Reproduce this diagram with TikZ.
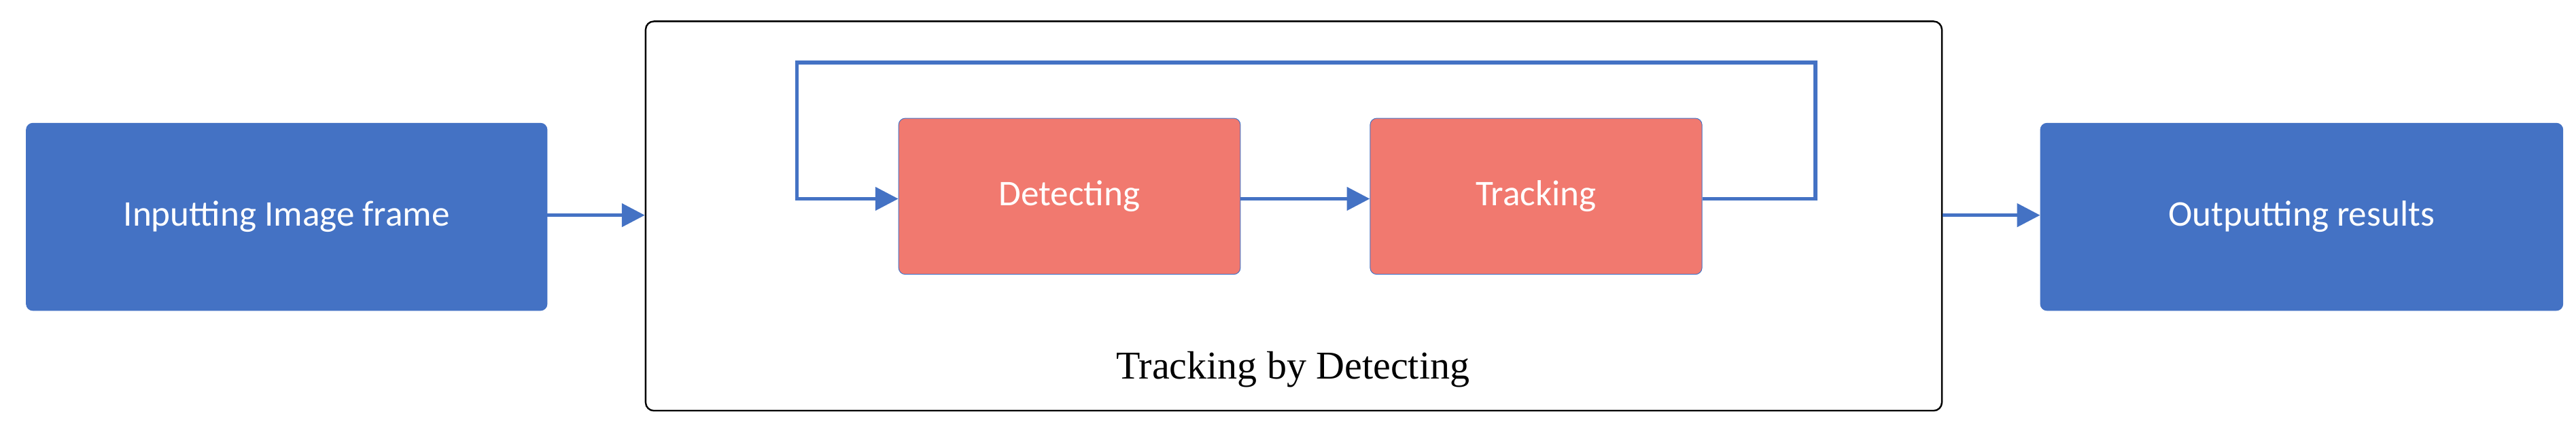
\documentclass[tikz,border=0pt]{standalone}
\usepackage{fontspec}
\setmainfont{Carlito}
\newfontfamily\serif{Liberation Serif}
\usetikzlibrary{arrows.meta}
\definecolor{bblue}{HTML}{4472C4}
\definecolor{salmon}{HTML}{F1796F}
\begin{document}
\begin{tikzpicture}[x=1pt,y=-1pt,
  blk/.style={draw=bblue,fill=bblue,rounded corners=4pt,text=white,font=\fontsize{22}{26}\selectfont},
  red/.style={draw=bblue,fill=salmon,rounded corners=4pt,text=white,font=\fontsize{22}{26}\selectfont},
  arr/.style={draw=bblue,line width=2.2pt,-{Triangle[length=14pt,width=14pt]}}]
\useasboundingbox (0,0) rectangle (1568,266);
\node[blk,minimum width=317pt,minimum height=114pt] (in) at (174.5,132) {Inputting Image frame};
\node[blk,minimum width=318pt,minimum height=114pt] (out) at (1401,132) {Outputting results};
\node[draw=black,line width=1pt,rounded corners=5pt,minimum width=789pt,minimum height=237pt] (big) at (787.5,131.5) {};
\node[font=\serif\fontsize{24}{28}\selectfont] (lab) at (787,225) {Tracking by Detecting};
\node[red,minimum width=208pt,minimum height=95pt] (det) at (651,119.5) {Detecting};
\node[red,minimum width=202pt,minimum height=95pt] (trk) at (935,119.5) {Tracking};
\coordinate (a) at (1105,121);
\coordinate (b) at (1105,38);
\coordinate (c) at (485,38);
\coordinate (d) at (485,121);
\draw[arr] (in.east|-0,131) -- (big.west|-0,131);
\draw[arr] (big.east|-0,131) -- (out.west|-0,131);
\draw[arr] (det.east|-0,121) -- (trk.west|-0,121);
\draw[arr] (trk.east|-a) -- (a) -- (b) -- (c) -- (d) -- (det.west|-d);
\end{tikzpicture}
\end{document}
